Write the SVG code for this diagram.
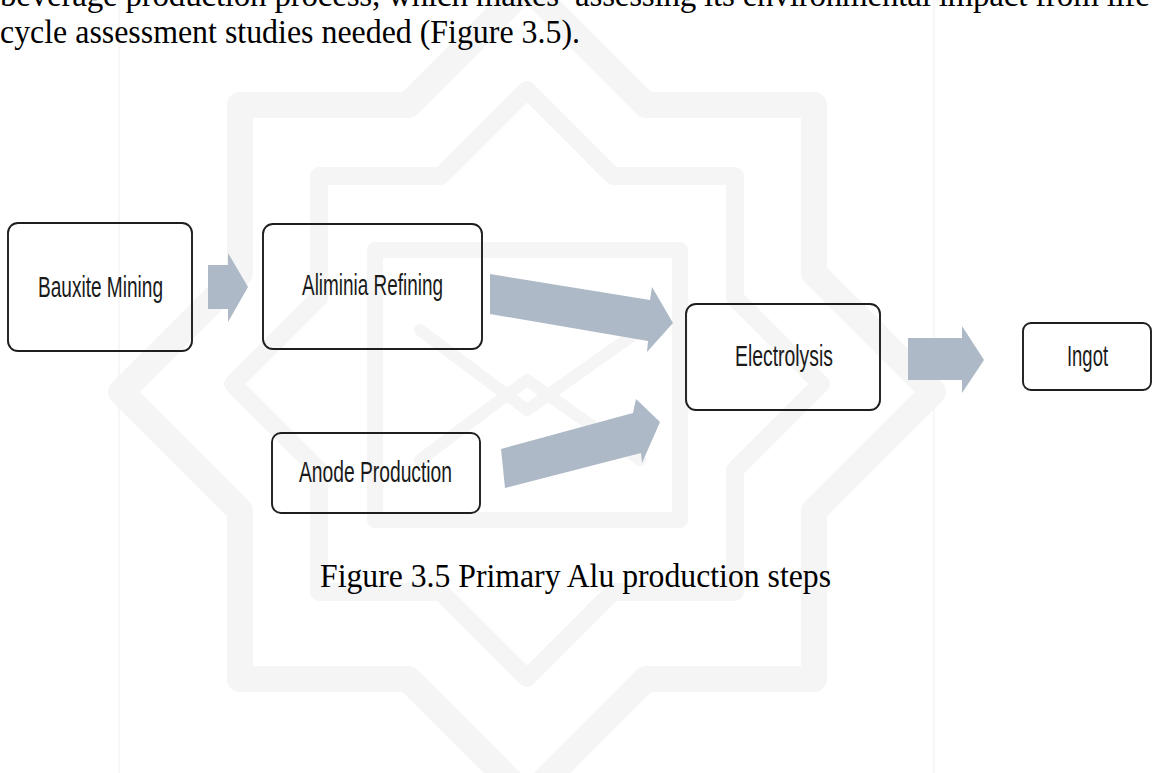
<svg xmlns="http://www.w3.org/2000/svg" width="1153" height="773" viewBox="0 0 1153 773">
  <style>
    .wm { fill: none; stroke: #f5f5f5; stroke-linejoin: round; stroke-linecap: round; }
    .box { fill: none; stroke: #1e1e1e; stroke-width: 1.9; }
    .lbl { font-family: "Liberation Sans", Arial, sans-serif; font-size: 29px; fill: #1a1a1a; }
    .arr { fill: #adb9c6; }
    .body { font-family: "Liberation Serif", "Times New Roman", serif; font-size: 33px; fill: #000; }
  </style>
  <rect width="1153" height="773" fill="#ffffff"/>
  <g id="watermark">
    <line x1="119" y1="0" x2="119" y2="773" stroke="#efefef" stroke-width="1"/>
    <line x1="934" y1="0" x2="934" y2="773" stroke="#efefef" stroke-width="1"/>
    <polygon class="wm" stroke-width="26" points="527,-14 646,105 814,105 814,273 933,392 814,511 814,679 646,679 527,798 408,679 240,679 240,511 121,392 240,273 240,105 408,105"/>
    <polygon class="wm" stroke-width="18" points="527,90 613,176 735,176 735,298 821,384 735,470 735,592 613,592 527,678 441,592 319,592 319,470 233,384 319,298 319,176 441,176"/>
    <rect class="wm" stroke-width="16" x="375" y="250" width="305" height="270"/>
    <polyline class="wm" stroke-width="12" points="420,330 527,410 640,330"/>
    <polyline class="wm" stroke-width="12" points="420,460 527,380 640,460"/>
  </g>
  <g id="text-above">
    <text class="body" x="0" y="6" textLength="1150" lengthAdjust="spacing" xml:space="preserve">beverage production process, which makes  assessing its environmental impact from life</text>
    <text class="body" x="0" y="43" textLength="580" lengthAdjust="spacingAndGlyphs">cycle assessment studies needed (Figure 3.5).</text>
  </g>
  <g id="connectors">
    <polygon class="arr" points="208,265 228,265 228,253 248,287 228,322 228,309 208,309"/>
    <polygon class="arr" points="490,274 650,300 652,287 673,323 647,352 648,341 490,314"/>
    <polygon class="arr" points="501,449 633,413 636,399 660,422 642,463 641,453 505,488"/>
    <polygon class="arr" points="908,338 962,338 962,326 984,360 962,393 962,380 908,380"/>
  </g>
  <g id="node-bauxite">
    <rect class="box" x="8" y="223" width="184" height="128" rx="10"/>
    <text class="lbl" x="38" y="297" textLength="125" lengthAdjust="spacingAndGlyphs">Bauxite Mining</text>
  </g>
  <g id="node-alumina">
    <rect class="box" x="263" y="224" width="219" height="125" rx="10"/>
    <text class="lbl" x="302" y="295" textLength="141" lengthAdjust="spacingAndGlyphs">Aliminia Refining</text>
  </g>
  <g id="node-anode">
    <rect class="box" x="272" y="433" width="208" height="80" rx="9"/>
    <text class="lbl" x="299" y="482" textLength="153" lengthAdjust="spacingAndGlyphs">Anode Production</text>
  </g>
  <g id="node-electrolysis">
    <rect class="box" x="686" y="304" width="194" height="106" rx="10"/>
    <text class="lbl" x="735" y="366" textLength="98" lengthAdjust="spacingAndGlyphs">Electrolysis</text>
  </g>
  <g id="node-ingot">
    <rect class="box" x="1023" y="323" width="128" height="67" rx="8"/>
    <text class="lbl" x="1067" y="366" textLength="41" lengthAdjust="spacingAndGlyphs">Ingot</text>
  </g>
  <g id="caption">
    <text class="body" x="320" y="587" textLength="511" lengthAdjust="spacingAndGlyphs">Figure 3.5 Primary Alu production steps</text>
  </g>
</svg>
